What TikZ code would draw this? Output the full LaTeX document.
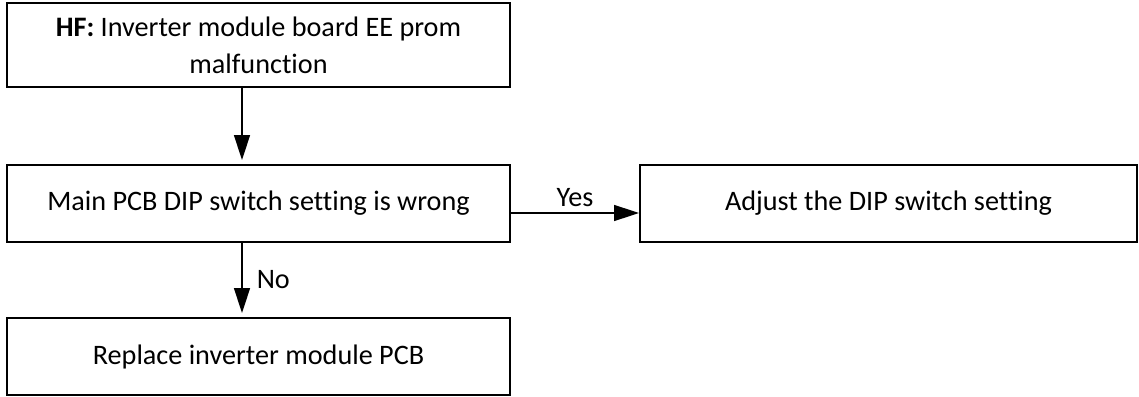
\documentclass[tikz,border=0pt]{standalone}
\usepackage{fontspec}
\setmainfont{Carlito}[Ligatures=NoCommon]
\usetikzlibrary{arrows.meta}
\begin{document}
\begin{tikzpicture}[x=1pt,y=-1pt,
  box/.style={draw=black,line width=2pt,rectangle,align=center,inner sep=0pt,
    font=\fontsize{28.2}{37}\selectfont},
  conn/.style={line width=1.5pt,-{Triangle[length=25pt,width=16pt]}},
  lbl/.style={font=\fontsize{28.2}{37}\selectfont,inner sep=0pt}]
\useasboundingbox (0,0) rectangle (1139,396);
\node[box,minimum width=503pt,minimum height=84pt] (hf) at (258.5,45)
  {\textbf{HF:} Inverter module board EE prom\\malfunction};
\node[box,minimum width=503pt,minimum height=77pt] (dip) at (258.5,203.5)
  {Main PCB DIP switch setting is wrong};
\node[box,minimum width=497pt,minimum height=77pt] (adj) at (888.5,203.5)
  {Adjust the DIP switch setting};
\node[box,minimum width=503pt,minimum height=77pt] (rep) at (258.5,356.5)
  {Replace inverter module PCB};
\coordinate (ys) at ([yshift=-9.5pt]dip.east);
\draw[conn,shorten >=4pt] (hf.south -| 242,0) -- (dip.north -| 242,0);
\draw[conn] (ys) -- node[lbl,above=6pt] {Yes} (ys -| adj.west);
\draw[conn,shorten >=4pt] (dip.south -| 242,0) -- node[lbl,right=14pt] {No} (rep.north -| 242,0);
\end{tikzpicture}
\end{document}
